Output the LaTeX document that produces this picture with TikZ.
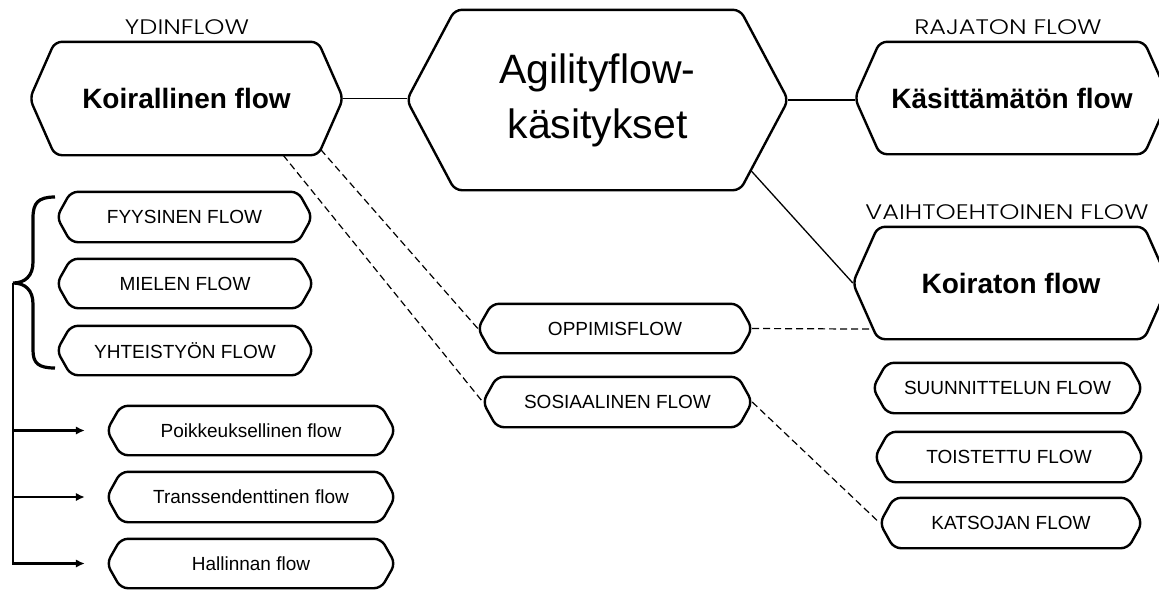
\documentclass[tikz,border=0pt]{standalone}
\usepackage{fontspec}
\setmainfont{Liberation Sans}
\newfontfamily\labelfont[FakeStretch=1.22]{Poppins Light}
\usetikzlibrary{arrows.meta,calc}
\newcommand{\hexbox}[8]{%
  \node[#7, minimum width=#4pt, minimum height=#5pt, inner sep=0pt, align=center] (#1) at (#2,#3) {#8};
  \draw[hexline] (#1.west) -- ([xshift=#6pt]#1.north west) -- ([xshift=-#6pt]#1.north east) -- (#1.east) -- ([xshift=-#6pt]#1.south east) -- ([xshift=#6pt]#1.south west) -- cycle;
}
\begin{document}
\begin{tikzpicture}[x=1pt,y=-1pt,
  hexline/.style={line width=2.4pt, rounded corners=7pt},
  conn/.style={line width=1.3pt},
  dashconn/.style={line width=1.2pt, dash pattern=on 7pt off 4pt},
  arr/.style={line width=2.2pt, -{Latex[length=9pt,width=8.5pt]}},
  toplabel/.style={font=\labelfont\fontsize{21}{25}\selectfont},
  big/.style={font=\bfseries\fontsize{28}{32}\selectfont},
  ctext/.style={font=\fontsize{41}{55}\selectfont},
  small/.style={font=\fontsize{19}{22}\selectfont}
]
\useasboundingbox (0,0) rectangle (1159,590);

\hexbox{K1}{186.5}{98.5}{313}{113}{25}{big}{Koirallinen flow}
\hexbox{C}{597.5}{100}{381}{180}{48}{ctext}{Agilityflow-\\käsitykset}
\hexbox{K2}{1012}{98}{314}{112}{25}{big}{Käsittämätön flow}
\hexbox{K3}{1011}{283}{316}{112}{25}{big}{Koiraton flow}

\hexbox{O}{615}{328.5}{274}{49}{14}{small}{OPPIMISFLOW}
\hexbox{S}{617.5}{402}{269}{50}{14}{small}{SOSIAALINEN FLOW}
\hexbox{SU}{1007.5}{388}{269}{50}{14}{small}{SUUNNITTELUN FLOW}
\hexbox{T}{1009}{457}{268}{50}{14}{small}{TOISTETTU FLOW}
\hexbox{KA}{1011}{523}{262}{50}{14}{small}{KATSOJAN FLOW}
\hexbox{F}{184.5}{217}{255}{50}{14}{small}{FYYSINEN FLOW}
\hexbox{M}{185}{283.5}{256}{49}{14}{small}{MIELEN FLOW}
\hexbox{Y}{185}{350.5}{256}{49}{14}{small}{YHTEISTYÖN FLOW}
\hexbox{P}{251}{430.5}{288}{49}{14}{small}{Poikkeuksellinen flow}
\hexbox{TR}{251}{497}{288}{50}{14}{small}{Transsendenttinen flow}
\hexbox{H}{251}{563.5}{288}{49}{14}{small}{Hallinnan flow}

\node[toplabel] (l1) at (187,27) {YDINFLOW};
\node[toplabel] (l2) at (1008,27) {RAJATON FLOW};
\node[toplabel] (l3) at (1007,212) {VAIHTOEHTOINEN FLOW};

\draw[conn] (K1.east) -- (K1.east -| C.west);
\draw[conn] (C.east) -- (C.east -| K2.west);
\draw[conn] ($(C.east)!0.78!([xshift=-48pt]C.south east)$) -- (K3.west);
\draw[dashconn] (O.east) -- ($(K3.west)!0.82!([xshift=25pt]K3.south west)$);
\draw[dashconn] ($(K1.east)!0.9!([xshift=-25pt]K1.south east)$) -- (O.west);
\draw[dashconn] ([xshift=-60pt]K1.south east) -- (S.west);
\draw[dashconn] (S.east) -- (KA.west);

\coordinate (bt) at (13,283);
\draw[line width=3.2pt] (55,197) .. controls (38,197) and (33,203) .. (33,218) -- (33,262) .. controls (33,276) and (25,283) .. (bt) .. controls (25,283) and (33,290) .. (33,304) -- (33,350) .. controls (33,363) and (38,368) .. (55,368);
\draw[arr] (bt) |- ([xshift=-22pt]H.west);
\draw[arr] (bt |- P.west) -- ([xshift=-22pt]P.west);
\draw[arr] (bt |- TR.west) -- ([xshift=-22pt]TR.west);
\end{tikzpicture}
\end{document}
